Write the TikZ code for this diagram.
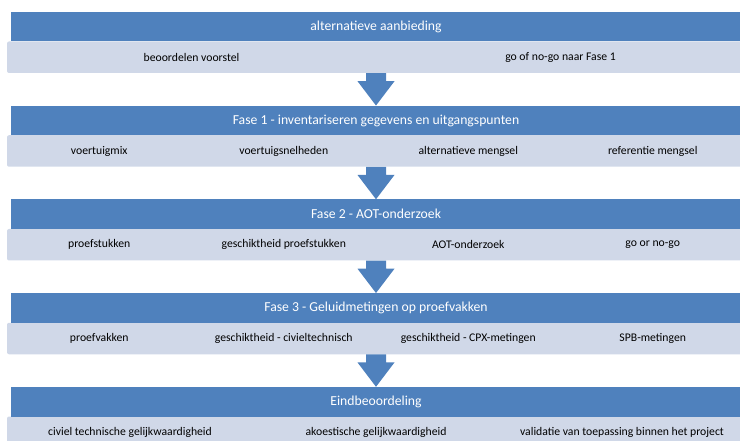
\documentclass[tikz,border=0pt]{standalone}
\usepackage{fontspec}
\setmainfont{Carlito}
\usetikzlibrary{calc}
\definecolor{faseblauw}{HTML}{4F81BD}
\definecolor{faselicht}{HTML}{D0D8E8}
\tikzset{
  kop/.style={fill=faseblauw, text=white, font=\fontsize{13.7}{16}\selectfont, minimum width=730pt, minimum height=29.5pt, inner sep=0pt},
  balk/.style={fill=faselicht, rounded corners=2pt, minimum width=738pt, minimum height=31.5pt, inner sep=0pt},
  punt/.style={font=\fontsize{11.7}{14}\selectfont, text=black, inner sep=0pt}
}
\newcommand{\fase}[3]{ \node[balk] (balk#1) at ( 376 , #2 + 45.25 ) {}; \node[kop] (kop#1) at ( 376 , #2 + 14.75 ) {#3};}
\newcommand{\pijl}[2]{ \fill[faseblauw] ([xshift=-10pt]#1.south) -- ([xshift=10pt]#1.south) -- ([xshift=10pt,yshift=-8pt]#1.south) -- ([xshift=18.5pt,yshift=-8pt]#1.south) -- (#2.north) -- ([xshift=-18.5pt,yshift=-8pt]#1.south) -- ([xshift=-10pt,yshift=-8pt]#1.south) -- cycle;}

\begin{document}
\begin{tikzpicture}[x=1pt,y=-1pt]
    \useasboundingbox (0,0) rectangle (740,441);
    %
    \fase{1}{12}{alternatieve aanbieding}
    \node[punt] (p11) at (191.5, 57) {beoordelen voorstel};
    \node[punt] (p12) at (560.5, 57) {go of no-go naar Fase 1};
    %
    \fase{2}{105.75}{Fase 1 - inventariseren gegevens en uitgangspunten}
    \node[punt] (p21) at (99.25, 151) {voertuigmix};
    \node[punt] (p22) at (283.75, 151) {voertuigsnelheden};
    \node[punt] (p23) at (468.25, 151) {alternatieve mengsel};
    \node[punt] (p24) at (652.75, 151) {referentie mengsel};
    %
    \fase{3}{199.5}{Fase 2 - AOT-onderzoek}
    \node[punt] (p31) at (99.25, 244.75) {proefstukken};
    \node[punt] (p32) at (283.75, 244.75) {geschiktheid proefstukken};
    \node[punt] (p33) at (468.25, 244.75) {AOT-onderzoek};
    \node[punt] (p34) at (652.75, 244.75) {go or no-go};
    %
    \fase{4}{293.25}{Fase 3 - Geluidmetingen op proefvakken}
    \node[punt] (p41) at (99.25, 338.5) {proefvakken};
    \node[punt] (p42) at (283.75, 338.5) {geschiktheid - civieltechnisch};
    \node[punt] (p43) at (468.25, 338.5) {geschiktheid - CPX-metingen};
    \node[punt] (p44) at (652.75, 338.5) {SPB-metingen};
    %
    \fase{5}{387}{Eindbeoordeling}
    \node[punt] (p51) at (130, 432.25) {civiel technische gelijkwaardigheid};
    \node[punt] (p52) at (376, 432.25) {akoestische gelijkwaardigheid};
    \node[punt] (p53) at (622, 432.25) {validatie van toepassing binnen het project};
    %
    \pijl{balk1}{kop2}
    \pijl{balk2}{kop3}
    \pijl{balk3}{kop4}
    \pijl{balk4}{kop5}
\end{tikzpicture}
\end{document}
